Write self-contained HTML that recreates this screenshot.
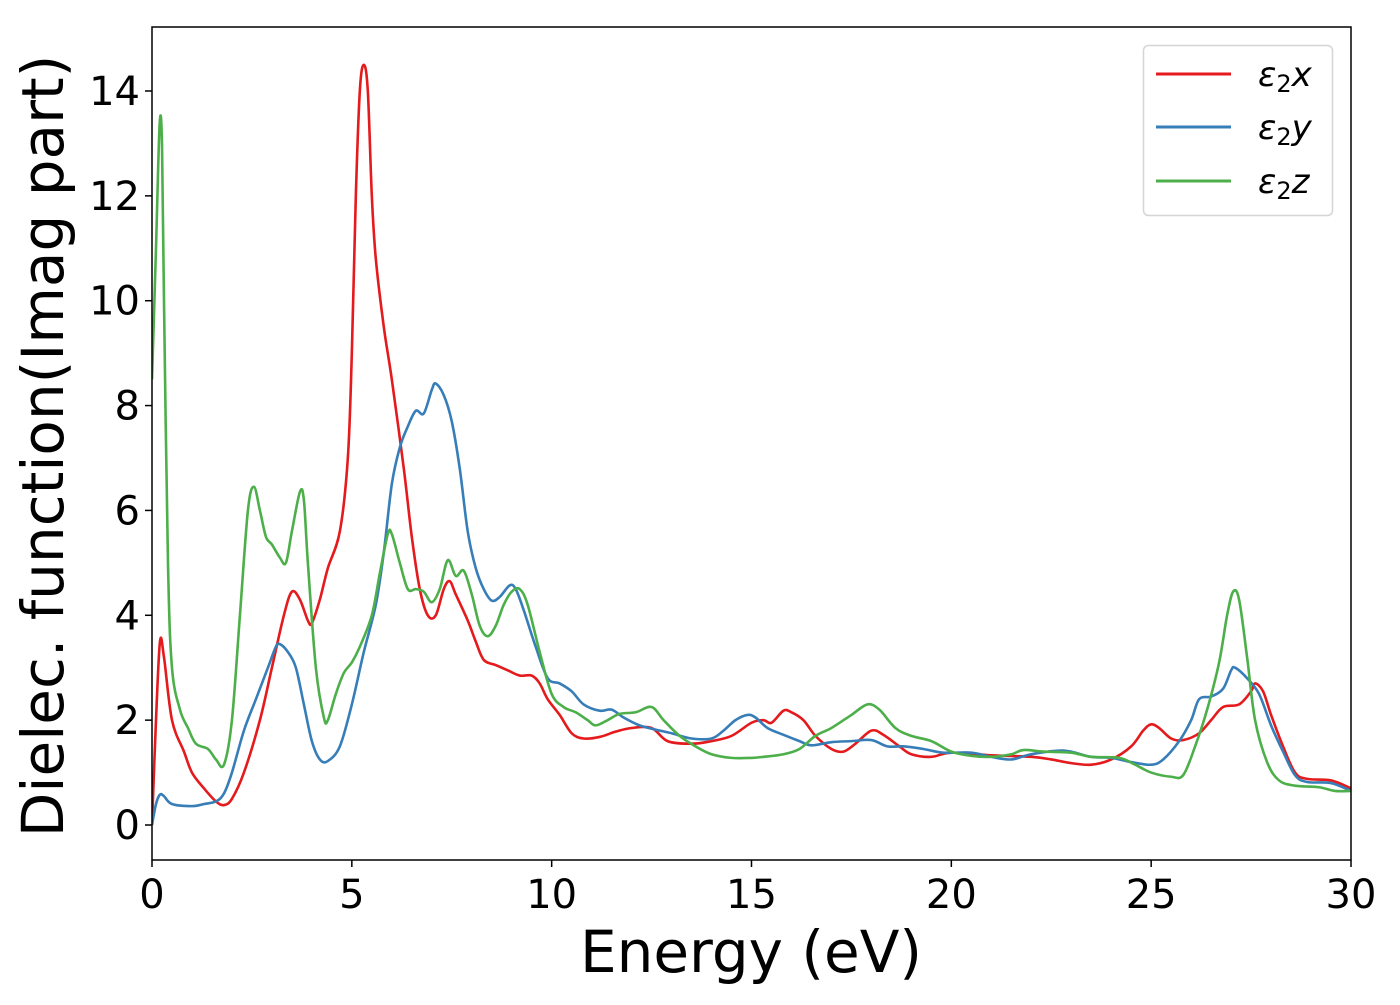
<!DOCTYPE html>
<html><head><meta charset="utf-8"><style>
body{margin:0;background:#fff}
svg text{font-family:"DejaVu Sans","Liberation Sans",sans-serif}
</style></head><body>
<svg id="chart" width="1400" height="1000" xmlns="http://www.w3.org/2000/svg">
<rect width="1400" height="1000" fill="#fff"/>
<g id="plot"></g>
<g id="axes"></g>
<text x="751" y="972" font-size="58" text-anchor="middle">Energy (eV)</text>
<text transform="translate(63,446) rotate(-90)" font-size="58" text-anchor="middle">Dielec. function(Imag part)</text>
<g>
<rect x="1143.5" y="45.5" width="189" height="170" rx="5" fill="#fff" stroke="#d5d5d5" stroke-width="1.5"/>
<line x1="1156" y1="74" x2="1231" y2="74" stroke="#e41a1c" stroke-width="3"/>
<line x1="1156" y1="127" x2="1231" y2="127" stroke="#377eb8" stroke-width="3"/>
<line x1="1156" y1="181" x2="1231" y2="181" stroke="#4daf4a" stroke-width="3"/>
<text x="1258" y="86" font-size="34" font-style="italic">ε<tspan font-style="normal" font-size="24" dy="6">2</tspan><tspan dy="-6">x</tspan></text>
<text x="1258" y="139" font-size="34" font-style="italic">ε<tspan font-style="normal" font-size="24" dy="6">2</tspan><tspan dy="-6">y</tspan></text>
<text x="1258" y="193" font-size="34" font-style="italic">ε<tspan font-style="normal" font-size="24" dy="6">2</tspan><tspan dy="-6">z</tspan></text>
</g>
</svg>
<script>
const xTicks=[0,5,10,15,20,25,30];
const yTicks=[0,2,4,6,8,10,12,14];
const seriesX=[[0,0],[0.1,2.0],[0.2,3.5],[0.3,3.2],[0.5,2.0],[0.8,1.4],[1.0,1.0],[1.3,0.7],[1.6,0.45],[1.8,0.38],[2.0,0.5],[2.3,1.0],[2.7,2.0],[3.0,3.0],[3.3,4.0],[3.5,4.45],[3.7,4.3],[3.9,3.9],[4.0,3.85],[4.2,4.3],[4.4,4.9],[4.7,5.6],[4.9,7],[5.0,9],[5.1,12],[5.2,14],[5.3,14.5],[5.4,14],[5.5,12],[5.6,10.8],[5.8,9.5],[6.0,8.5],[6.3,6.8],[6.5,5.5],[6.7,4.5],[6.9,4.0],[7.1,4.0],[7.3,4.5],[7.45,4.65],[7.6,4.4],[7.9,3.9],[8.1,3.5],[8.3,3.15],[8.6,3.05],[8.9,2.95],[9.2,2.85],[9.5,2.85],[9.7,2.7],[9.9,2.4],[10.2,2.1],[10.5,1.75],[10.8,1.65],[11.2,1.68],[11.6,1.78],[12.0,1.85],[12.5,1.85],[12.9,1.6],[13.5,1.55],[14.0,1.6],[14.5,1.7],[15.0,1.95],[15.3,2.0],[15.5,1.95],[15.8,2.18],[16.0,2.15],[16.3,2.0],[16.6,1.7],[17.0,1.45],[17.3,1.4],[17.6,1.55],[18.0,1.8],[18.3,1.72],[18.7,1.5],[19.0,1.35],[19.5,1.3],[20,1.38],[21,1.33],[22,1.3],[22.5,1.25],[23,1.18],[23.5,1.15],[24.0,1.25],[24.5,1.5],[24.8,1.8],[25.0,1.92],[25.2,1.85],[25.5,1.65],[25.8,1.62],[26.2,1.75],[26.5,2.0],[26.8,2.25],[27.2,2.3],[27.5,2.55],[27.6,2.7],[27.8,2.55],[28.0,2.1],[28.3,1.5],[28.6,1.0],[28.9,0.88],[29.5,0.85],[30,0.7]];
const seriesY=[[0,0],[0.1,0.4],[0.2,0.58],[0.3,0.55],[0.5,0.4],[1.0,0.36],[1.3,0.4],[1.6,0.45],[1.8,0.6],[2.0,1.0],[2.3,1.8],[2.6,2.4],[2.9,3.0],[3.1,3.4],[3.2,3.45],[3.4,3.3],[3.6,3.0],[3.8,2.3],[4.0,1.6],[4.2,1.25],[4.4,1.22],[4.7,1.5],[5.0,2.3],[5.3,3.3],[5.6,4.2],[5.8,5.2],[6.0,6.5],[6.2,7.2],[6.4,7.6],[6.6,7.9],[6.8,7.85],[7.0,8.3],[7.1,8.42],[7.3,8.2],[7.5,7.7],[7.7,6.8],[7.9,5.6],[8.1,4.9],[8.3,4.5],[8.5,4.28],[8.7,4.35],[8.95,4.57],[9.1,4.5],[9.3,4.1],[9.6,3.4],[9.9,2.8],[10.2,2.7],[10.5,2.55],[10.8,2.3],[11.2,2.18],[11.5,2.2],[11.8,2.05],[12.2,1.9],[12.6,1.82],[13.0,1.75],[13.5,1.65],[14.0,1.65],[14.3,1.8],[14.6,2.0],[14.9,2.1],[15.1,2.05],[15.4,1.85],[15.8,1.72],[16.2,1.6],[16.5,1.52],[17.0,1.58],[17.5,1.6],[18.0,1.62],[18.4,1.5],[18.8,1.5],[19.3,1.45],[19.8,1.38],[20.5,1.38],[21,1.3],[21.5,1.25],[22,1.35],[22.8,1.42],[23.5,1.3],[24.0,1.28],[24.5,1.2],[25.0,1.15],[25.3,1.25],[25.7,1.6],[26.0,2.0],[26.2,2.4],[26.5,2.45],[26.8,2.6],[27.0,2.95],[27.1,3.0],[27.4,2.8],[27.7,2.5],[28.0,1.9],[28.3,1.4],[28.6,0.95],[28.9,0.82],[29.5,0.8],[30,0.65]];
const seriesZ=[[0,8.5],[0.1,11],[0.19,13.35],[0.25,13.0],[0.3,10],[0.4,5],[0.5,3],[0.7,2.2],[0.9,1.85],[1.1,1.55],[1.4,1.45],[1.6,1.25],[1.8,1.15],[2.0,2.0],[2.2,4.0],[2.4,6.0],[2.55,6.45],[2.7,6.0],[2.85,5.5],[3.0,5.35],[3.2,5.1],[3.35,5.0],[3.5,5.6],[3.7,6.35],[3.8,6.2],[3.9,5.0],[4.1,3.0],[4.3,2.05],[4.4,2.0],[4.6,2.5],[4.8,2.9],[5.0,3.1],[5.2,3.4],[5.5,4.0],[5.7,4.8],[5.9,5.55],[6.0,5.55],[6.2,5.0],[6.4,4.5],[6.6,4.5],[6.8,4.45],[7.0,4.25],[7.2,4.5],[7.4,5.05],[7.6,4.75],[7.8,4.85],[8.0,4.4],[8.2,3.8],[8.4,3.6],[8.6,3.8],[8.8,4.2],[9.0,4.45],[9.2,4.5],[9.4,4.2],[9.7,3.3],[10.0,2.5],[10.3,2.25],[10.6,2.15],[10.9,2.0],[11.1,1.9],[11.4,2.0],[11.7,2.12],[12.1,2.15],[12.5,2.25],[12.8,2.0],[13.2,1.7],[13.6,1.5],[14.0,1.35],[14.5,1.28],[15.0,1.28],[15.3,1.3],[15.8,1.35],[16.2,1.45],[16.6,1.7],[17.0,1.85],[17.5,2.1],[17.9,2.3],[18.2,2.2],[18.6,1.85],[19.0,1.7],[19.5,1.6],[20,1.4],[20.5,1.32],[21,1.3],[21.5,1.35],[21.8,1.43],[22.3,1.4],[23,1.38],[23.5,1.3],[24.2,1.28],[24.6,1.15],[25.0,1.0],[25.5,0.92],[25.8,0.95],[26.1,1.5],[26.4,2.2],[26.7,3.1],[26.9,4.0],[27.05,4.45],[27.2,4.3],[27.4,3.2],[27.6,2.0],[27.9,1.2],[28.2,0.85],[28.6,0.75],[29.2,0.72],[29.6,0.65],[30,0.65]];

const L=152,R=1351,T=27,B=860,Y0=825,Y14=91;
const sx=v=>L+(v-0)/(30-0)*(R-L);
const sy=v=>Y0-v*(Y0-Y14)/14;
const NS='http://www.w3.org/2000/svg';
const plot=document.getElementById('plot'),axes=document.getElementById('axes');
function mk(tag,attrs,parent){const e=document.createElementNS(NS,tag);for(const k in attrs)e.setAttribute(k,attrs[k]);parent.appendChild(e);return e;}
function pathFor(d){const p=d.map(q=>[sx(q[0]),sy(q[1])]);let s='M'+p[0][0]+','+p[0][1];
for(let i=0;i<p.length-1;i++){const p0=p[i-1]||p[i],p1=p[i],p2=p[i+1],p3=p[i+2]||p2;
const c1=[p1[0]+(p2[0]-p0[0])/6,p1[1]+(p2[1]-p0[1])/6],c2=[p2[0]-(p3[0]-p1[0])/6,p2[1]-(p3[1]-p1[1])/6];
s+='C'+c1[0]+','+c1[1]+' '+c2[0]+','+c2[1]+' '+p2[0]+','+p2[1];}return s;}
const clip=mk('clipPath',{id:'cp'},plot);mk('rect',{x:L,y:T,width:R-L,height:B-T},clip);
const ser=[[seriesX,'#e41a1c','series-eps2x'],[seriesY,'#377eb8','series-eps2y'],[seriesZ,'#4daf4a','series-eps2z']];
ser.forEach(s=>{const e=mk('path',{d:pathFor(s[0]),fill:'none',stroke:s[1],'stroke-width':2.6,'clip-path':'url(#cp)'},plot);

});
const fr=mk('rect',{x:L,y:T,width:R-L,height:B-T,fill:'none',stroke:'#000','stroke-width':1.5},axes);


xTicks.forEach(v=>{const x=sx(v);const t=mk('line',{x1:x,x2:x,y1:B,y2:B+7,stroke:'#000','stroke-width':1.5},axes);


const l=mk('text',{x:x,y:908,'font-size':40,'text-anchor':'middle'},axes);l.textContent=v;

});
yTicks.forEach(v=>{const y=sy(v);const t=mk('line',{x1:L-7,x2:L,y1:y,y2:y,stroke:'#000','stroke-width':1.5},axes);


const l=mk('text',{x:140,y:y+14,'font-size':40,'text-anchor':'end'},axes);l.textContent=v;

});
</script>
</body></html>
